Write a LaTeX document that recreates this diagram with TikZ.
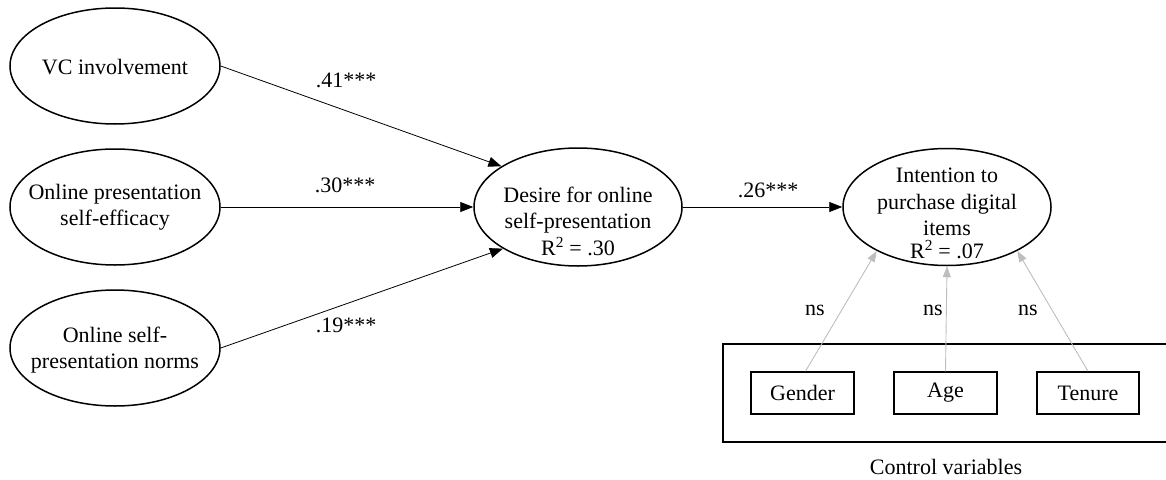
\documentclass[tikz,border=0pt]{standalone}
\usepackage{fontspec}
\setmainfont{Liberation Serif}
\usetikzlibrary{shapes.geometric,arrows.meta,calc}
\definecolor{ctrlgray}{RGB}{190,190,190}
\begin{document}
\begin{tikzpicture}[x=1pt,y=-1pt,
  every node/.style={font=\fontsize{22}{26.5}\selectfont, inner sep=0pt},
  construct/.style={draw, ellipse, line width=1.5pt, minimum width=210pt,
    minimum height=116pt},
  label text/.style={align=center},
  ctrlbox/.style={draw, rectangle, line width=1.5pt, minimum width=103pt,
    minimum height=42pt},
  path/.style={line width=0.8pt, -{Triangle[length=13pt,width=10pt]}},
  ctrlpath/.style={line width=0.9pt, draw=ctrlgray,
    -{Triangle[length=11pt,width=8pt,fill=ctrlgray]}},
  coef/.style={anchor=center}
]
\useasboundingbox (0,0) rectangle (1166,479);
\begin{scope}
\clip (0,0) rectangle (1166,479);

% exogenous constructs
\node[construct] (vc)   at (115,66)  {};
\node[construct] (eff)  at (115,207) {};
\node[construct] (norm) at (115,348) {};
\node[label text] (vctxt)   at (115,67)  {VC involvement};
\node[label text] (efftxt)  at (115,207) {Online presentation\\self-efficacy};
\node[label text] (normtxt) at (115,350) {Online self-\\presentation norms};

% mediator
\node[construct, minimum width=208pt, minimum height=118pt] (desire) at (578,207) {};
\node[label text] (desiretxt) at (578,221)
  {Desire for online\\self-presentation\\R\textsuperscript{2} = .30};

% outcome
\node[construct, minimum width=208pt, minimum height=117pt] (intent) at (947,207) {};
\node[label text] (intenttxt) at (947,202)
  {Intention to\\purchase digital\\items};
\node[anchor=base] (intentr2) at (947,258) {R\textsuperscript{2} = .07};

% control variables
\node[draw, rectangle, line width=1.5pt, minimum width=470pt, minimum height=98pt,
  anchor=north west] (ctrl) at (722,343) {};
\node (ctrllbl) at (946,467) {Control variables};
\node[ctrlbox] (gender) at (802.5,393) {Gender};
\node[ctrlbox] (age)    at (945.5,393) {Age};
\node[ctrlbox, minimum width=102pt] (tenure) at (1088,393) {Tenure};

% structural paths
\draw[path] (vc.east) -- (desire.152);
\draw[path] (eff.east) -- (desire.west);
\draw[path] (norm.east) -- (desire.209);
\draw[path] (desire.east) -- (intent.west);

\node[coef] (c41) at (346,80)  {.41***};
\node[coef] (c30) at (345,185) {.30***};
\node[coef] (c19) at (346,325) {.19***};
\node[coef] (c26) at (768,190) {.26***};

% control paths
\draw[ctrlpath] ($(gender.north)+(3,0)$) -- (intent.212);
\draw[ctrlpath] (age.north) -- (intent.south);
\draw[ctrlpath] (tenure.north) -- (intent.-32);

\node (ns1) at (815,310) {ns};
\node (ns2) at (933,310) {ns};
\node (ns3) at (1028,310) {ns};
\end{scope}
\end{tikzpicture}
\end{document}
